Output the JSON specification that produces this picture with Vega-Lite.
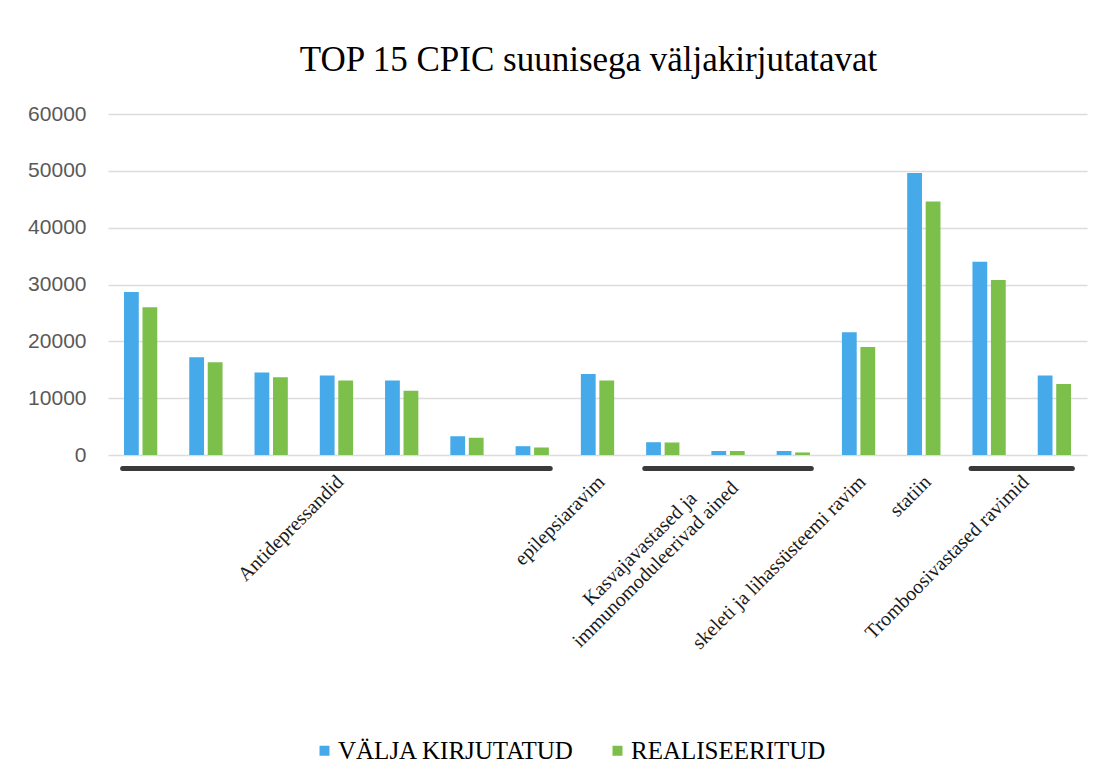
{
  "$schema": "https://vega.github.io/schema/vega-lite/v6.json",
  "autosize": "none",
  "width": 979,
  "height": 341,
  "padding": {"left": 108, "top": 114, "right": 19, "bottom": 329},
  "background": "white",
  "title": {
    "text": "TOP 15 CPIC suunisega väljakirjutatavat",
    "font": "Liberation Serif",
    "fontSize": 35,
    "fontWeight": "normal",
    "color": "#000000",
    "anchor": "middle",
    "frame": "group",
    "baseline": "alphabetic",
    "offset": -3,
    "dx": -9
  },
  "config": {
    "view": {"stroke": null},
    "axis": {"grid": true, "gridColor": "#dcdcdc", "gridWidth": 1.5}
  },
  "data": {
    "values": [
      {"idx": 1, "group": "Antidepressandid", "series": "VÄLJA KIRJUTATUD", "value": 28700},
      {"idx": 1, "group": "Antidepressandid", "series": "REALISEERITUD", "value": 26000},
      {"idx": 2, "group": "Antidepressandid", "series": "VÄLJA KIRJUTATUD", "value": 17200},
      {"idx": 2, "group": "Antidepressandid", "series": "REALISEERITUD", "value": 16300},
      {"idx": 3, "group": "Antidepressandid", "series": "VÄLJA KIRJUTATUD", "value": 14500},
      {"idx": 3, "group": "Antidepressandid", "series": "REALISEERITUD", "value": 13700},
      {"idx": 4, "group": "Antidepressandid", "series": "VÄLJA KIRJUTATUD", "value": 14000},
      {"idx": 4, "group": "Antidepressandid", "series": "REALISEERITUD", "value": 13100},
      {"idx": 5, "group": "Antidepressandid", "series": "VÄLJA KIRJUTATUD", "value": 13100},
      {"idx": 5, "group": "Antidepressandid", "series": "REALISEERITUD", "value": 11300},
      {"idx": 6, "group": "Antidepressandid", "series": "VÄLJA KIRJUTATUD", "value": 3300},
      {"idx": 6, "group": "Antidepressandid", "series": "REALISEERITUD", "value": 3050},
      {"idx": 7, "group": "Antidepressandid", "series": "VÄLJA KIRJUTATUD", "value": 1550},
      {"idx": 7, "group": "Antidepressandid", "series": "REALISEERITUD", "value": 1300},
      {"idx": 8, "group": "epilepsiaravim", "series": "VÄLJA KIRJUTATUD", "value": 14250},
      {"idx": 8, "group": "epilepsiaravim", "series": "REALISEERITUD", "value": 13100},
      {"idx": 9, "group": "Kasvajavastased ja\nimmunomoduleerivad ained", "series": "VÄLJA KIRJUTATUD", "value": 2250},
      {"idx": 9, "group": "Kasvajavastased ja\nimmunomoduleerivad ained", "series": "REALISEERITUD", "value": 2200},
      {"idx": 10, "group": "Kasvajavastased ja\nimmunomoduleerivad ained", "series": "VÄLJA KIRJUTATUD", "value": 700},
      {"idx": 10, "group": "Kasvajavastased ja\nimmunomoduleerivad ained", "series": "REALISEERITUD", "value": 700},
      {"idx": 11, "group": "Kasvajavastased ja\nimmunomoduleerivad ained", "series": "VÄLJA KIRJUTATUD", "value": 700},
      {"idx": 11, "group": "Kasvajavastased ja\nimmunomoduleerivad ained", "series": "REALISEERITUD", "value": 450},
      {"idx": 12, "group": "skeleti ja lihassüsteemi ravim", "series": "VÄLJA KIRJUTATUD", "value": 21600},
      {"idx": 12, "group": "skeleti ja lihassüsteemi ravim", "series": "REALISEERITUD", "value": 19000},
      {"idx": 13, "group": "statiin", "series": "VÄLJA KIRJUTATUD", "value": 49600},
      {"idx": 13, "group": "statiin", "series": "REALISEERITUD", "value": 44600},
      {"idx": 14, "group": "Tromboosivastased ravimid", "series": "VÄLJA KIRJUTATUD", "value": 34000},
      {"idx": 14, "group": "Tromboosivastased ravimid", "series": "REALISEERITUD", "value": 30800},
      {"idx": 15, "group": "Tromboosivastased ravimid", "series": "VÄLJA KIRJUTATUD", "value": 14000},
      {"idx": 15, "group": "Tromboosivastased ravimid", "series": "REALISEERITUD", "value": 12500}
    ]
  },
  "layer": [
    {
      "mark": {"type": "bar"},
      "encoding": {
        "x": {
          "field": "idx",
          "type": "ordinal",
          "axis": null,
          "scale": {"paddingInner": 0.49, "paddingOuter": 0.245}
        },
        "xOffset": {
          "field": "series",
          "type": "nominal",
          "sort": ["VÄLJA KIRJUTATUD", "REALISEERITUD"],
          "scale": {"paddingInner": 0.2, "paddingOuter": 0}
        },
        "y": {
          "field": "value",
          "type": "quantitative",
          "scale": {"domain": [0, 60000], "nice": false},
          "axis": {
            "title": null,
            "values": [0, 10000, 20000, 30000, 40000, 50000, 60000],
            "format": "d",
            "domain": false,
            "ticks": false,
            "labelFont": "Liberation Sans",
            "labelFontSize": 21,
            "labelColor": "#595959",
            "labelPadding": 22
          }
        },
        "color": {
          "field": "series",
          "type": "nominal",
          "sort": ["VÄLJA KIRJUTATUD", "REALISEERITUD"],
          "scale": {
            "domain": ["VÄLJA KIRJUTATUD", "REALISEERITUD"],
            "range": ["#46aaea", "#7dbf4b"]
          },
          "legend": {
            "title": null,
            "orient": "none",
            "direction": "horizontal",
            "legendX": 204,
            "legendY": 624,
            "padding": 0,
            "symbolType": "square",
            "symbolSize": 100,
            "symbolStrokeWidth": 0,
            "labelFont": "Liberation Serif",
            "labelFontSize": 25,
            "labelColor": "#000000",
            "labelOffset": 1,
            "columnPadding": 30,
            "labelLimit": 400
          }
        }
      }
    },
    {
      "transform": [
        {"aggregate": [{"op": "min", "field": "idx", "as": "lo"}, {"op": "max", "field": "idx", "as": "hi"}], "groupby": ["group"]},
        {"filter": "datum.hi > datum.lo"}
      ],
      "mark": {"type": "rule", "strokeWidth": 5, "color": "#3a3a3a", "xOffset": -18, "x2Offset": 18, "yOffset": 13.5, "strokeCap": "round"},
      "encoding": {
        "x": {"field": "lo", "type": "quantitative", "scale": {"domain": [0.5, 15.5], "nice": false, "zero": false}, "axis": null},
        "x2": {"field": "hi"},
        "y": {"datum": 0}
      }
    },
    {
      "transform": [
        {"aggregate": [{"op": "mean", "field": "idx", "as": "mid"}], "groupby": ["group"]},
        {"filter": "indexof(datum.group, '\\n') < 0"}
      ],
      "mark": {"type": "text", "angle": -45, "align": "right", "baseline": "middle", "font": "Liberation Serif", "fontSize": 20, "color": "#1a1a1a", "xOffset": 4, "yOffset": 24},
      "encoding": {
        "x": {"field": "mid", "type": "quantitative", "scale": {"domain": [0.5, 15.5], "nice": false, "zero": false}, "axis": null},
        "y": {"datum": 0},
        "text": {"field": "group"}
      }
    },
    {
      "transform": [
        {"aggregate": [{"op": "mean", "field": "idx", "as": "mid"}], "groupby": ["group"]},
        {"filter": "indexof(datum.group, '\\n') >= 0"}
      ],
      "mark": {"type": "text", "angle": -45, "align": "center", "baseline": "middle", "lineBreak": "\n", "lineHeight": 22, "font": "Liberation Serif", "fontSize": 20, "color": "#1a1a1a", "xOffset": -88, "yOffset": 94},
      "encoding": {
        "x": {"field": "mid", "type": "quantitative", "scale": {"domain": [0.5, 15.5], "nice": false, "zero": false}, "axis": null},
        "y": {"datum": 0},
        "text": {"field": "group"}
      }
    }
  ],
  "resolve": {"scale": {"x": "independent"}}
}
